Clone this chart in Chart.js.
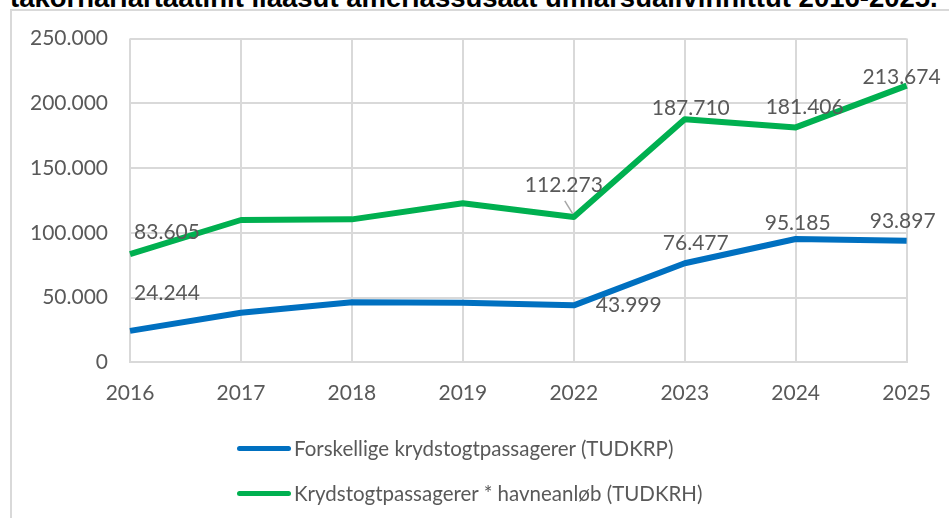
<html>
<head>
  <meta charset="utf-8">
  <title>Krydstogtpassagerer 2016-2025</title>
  <script src="https://cdn.jsdelivr.net/npm/chart.js"></script>
  <style>
    body {
      margin: 0;
      width: 949px;
      height: 518px;
      overflow: hidden;
      position: relative;
      background: #fff;
      font-family: 'Lato', sans-serif;
    }
    #title {
      position: absolute;
      left: 10px;
      top: -16px;
      font: bold 27.5px 'Liberation Sans', Arial, sans-serif;
      line-height: 1;
      color: #000;
      white-space: nowrap;
    }
    #box {
      position: absolute;
      left: 10px;
      top: 9px;
      width: 940px;
      height: 530px;
      border: 2px solid #d9d9d9;
    }
    canvas {
      position: absolute;
      left: 0;
      top: 0;
    }
    #legend {
      position: absolute;
      left: 237px;
      top: 434px;
    }
    .item {
      display: flex;
      align-items: center;
      height: 28px;
      margin-bottom: 17px;
      font-size: 20.5px;
      color: #595959;
    }
    .swatch {
      width: 54px;
      height: 5px;
      border-radius: 3px;
      margin-right: 3px;
    }
  </style>
</head>
<body>
  <div id="title">takornariartaatinit ilaasut amerlassusaat umiarsualivinnittut 2016-2025.</div>
  <div id="box"></div>
  <canvas id="chart" width="949" height="518"></canvas>
  <div id="legend"></div>

<script>
const years = ['2016', '2017', '2018', '2019', '2022', '2023', '2024', '2025'];
const tudkrp = [24244, 38300, 46300, 45900, 43999, 76477, 95185, 93897];
const tudkrh = [83605, 109900, 110400, 122800, 112273, 187710, 181406, 213674];
const seriesNames = ['Forskellige krydstogtpassagerer (TUDKRP)', 'Krydstogtpassagerer * havneanløb (TUDKRH)'];
const yMax = 250000;
const yStep = 50000;
// which points carry a value label
const labelledPoints = [0, 4, 5, 6, 7];

function fmt(n) {
  return String(n).replace(/\B(?=(\d{3})+(?!\d))/g, '.');
}

// label placement relative to the point (dx, dy of label centre)
const labelPlacement = [
  { 0: [37, -38], 4: [55, 0], 5: [11, -20], 6: [2, -16], 7: [-4, -19] },
  { 0: [37, -22], 4: [-10, -32], 5: [6, -11], 6: [9, -20], 7: [-5, -8] }
];

const valueLabels = {
  id: 'valueLabels',
  afterDatasetsDraw(chart) {
    const ctx = chart.ctx;
    ctx.save();
    ctx.font = '21px Lato';
    ctx.fillStyle = '#595959';
    ctx.textAlign = 'center';
    ctx.textBaseline = 'middle';
    chart.data.datasets.forEach((ds, di) => {
      const meta = chart.getDatasetMeta(di);
      labelledPoints.forEach(i => {
        const pt = meta.data[i];
        const off = labelPlacement[di][i];
        ctx.fillText(fmt(ds.data[i]), pt.x + off[0], pt.y + off[1]);
        if (di === 1 && i === 4) {
          // leader line
          ctx.strokeStyle = '#a6a6a6';
          ctx.lineWidth = 1.5;
          ctx.beginPath();
          ctx.moveTo(pt.x - 9, pt.y - 16);
          ctx.lineTo(pt.x - 1, pt.y - 3);
          ctx.stroke();
        }
      });
    });
    ctx.restore();
  }
};

const colors = ['#0070C0', '#00B050'];

const chart = new Chart(document.getElementById('chart'), {
  type: 'line',
  data: {
    labels: years,
    datasets: [
      { label: seriesNames[0], data: tudkrp, borderColor: colors[0], backgroundColor: colors[0] },
      { label: seriesNames[1], data: tudkrh, borderColor: colors[1], backgroundColor: colors[1] }
    ]
  },
  options: {
    responsive: false,
    animation: false,
    devicePixelRatio: 1,
    elements: {
      line: { borderWidth: 6, tension: 0, borderJoinStyle: 'round', fill: false },
      point: { radius: 0, hoverRadius: 0 }
    },
    layout: { padding: { left: 10, top: 38.6, right: 42, bottom: 105.7 } },
    plugins: {
      legend: { display: false },
      tooltip: { enabled: false }
    },
    scales: {
      x: {
        offset: false,
        grid: { color: '#d9d9d9', lineWidth: 2, drawTicks: false },
        border: { color: '#d9d9d9', width: 2 },
        ticks: { color: '#595959', font: { family: 'Lato', size: 21 }, padding: 18, maxRotation: 0 },
        afterFit(scale) { scale.height = 50; }
      },
      y: {
        min: 0,
        max: yMax,
        grid: { color: '#d9d9d9', lineWidth: 2, drawTicks: false },
        border: { display: false },
        ticks: {
          stepSize: yStep,
          color: '#595959',
          font: { family: 'Lato', size: 21 },
          padding: 22,
          callback: v => fmt(v)
        },
        afterFit(scale) { scale.width = 120; }
      }
    }
  },
  plugins: [valueLabels]
});

// legend, one series per row
const legend = document.getElementById('legend');
chart.data.datasets.forEach(ds => {
  const row = document.createElement('div');
  row.className = 'item';
  row.innerHTML = `<span class="swatch" style="background:${ds.borderColor}"></span><span>${ds.label}</span>`;
  legend.appendChild(row);
});
</script>
</body>
</html>
